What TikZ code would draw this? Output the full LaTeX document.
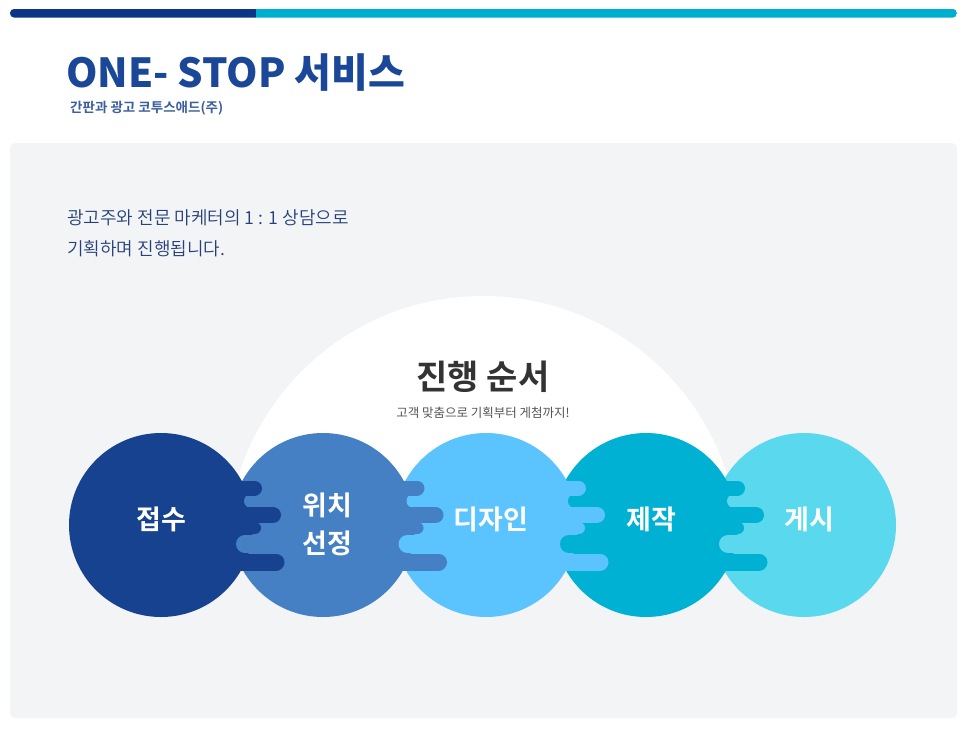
\documentclass[tikz,border=0pt]{standalone}
\usepackage{fontspec}
\newfontfamily\krreg{Noto Sans CJK KR}
\newfontfamily\krbold{Noto Sans CJK KR Bold}
\newfontfamily\krblack{Noto Sans CJK KR Black}
\newfontfamily\krlight{Noto Sans CJK KR DemiLight}
\definecolor{bardark}{HTML}{0C3587}
\definecolor{barlight}{HTML}{00AECF}
\definecolor{titleblue}{HTML}{1A4797}
\definecolor{subblue}{HTML}{3B5E9E}
\definecolor{panelgray}{HTML}{F3F4F6}
\definecolor{bodyblue}{HTML}{26417A}
\definecolor{cA}{HTML}{17428F}
\definecolor{cB}{HTML}{4680C4}
\definecolor{cC}{HTML}{5BC3FD}
\definecolor{cD}{HTML}{00B1D3}
\definecolor{cE}{HTML}{5AD8ED}
\definecolor{headgray}{HTML}{333333}
\definecolor{subgray}{HTML}{555555}
\tikzset{
  stepdisk/.style={circle, minimum size=184pt, inner sep=0pt, draw=none},
  steplabel/.style={text=white, font=\krbold\fontsize{27}{36}\selectfont, align=center, inner sep=0pt},
  finger/.style={line cap=round},
}
% #1,#2 = centre x of left and right disk, #3 = left colour, #4 = right colour
\newcommand{\joinfingers}[4]{%
  \pgfmathsetmacro{\jm}{(#1+#2)/2}%
  \draw[finger, #4, line width=14pt] ({\jm+9},501) -- ({\jm+50},501);
  \draw[finger, #4, line width=18pt] ({\jm+3},544) -- ({\jm+50},544);
  \draw[finger, #3, line width=15pt] ({\jm-20},488) -- ({\jm+12.5},488);
  \draw[finger, #3, line width=16pt] ({\jm-20},515) -- ({\jm+31},515);
  \draw[finger, #3, line width=12pt] ({\jm-20},528) -- ({\jm+13},528);
  \draw[finger, #3, line width=17pt] ({\jm-20},562) -- ({\jm+34},562);
}
\begin{document}
\begin{tikzpicture}[x=1pt,y=-1pt]
\useasboundingbox (0,0) rectangle (966,729);
\fill[white] (0,0) rectangle (966,729);
% top bar
\begin{scope}
  \clip[rounded corners=4pt] (10,9) rectangle (957,17.5);
  \fill[bardark] (10,9) rectangle (256,17.5);
  \fill[barlight] (256,9) rectangle (957,17.5);
\end{scope}
% title
\node[anchor=base west, inner sep=0pt, text=titleblue, font=\krblack\fontsize{40}{46}\selectfont] (title) at (66,87) {ONE- STOP 서비스};
\node[anchor=base west, inner sep=0pt, text=subblue, font=\krbold\fontsize{13.5}{16}\selectfont] (subtitle) at (70,112) {간판과 광고 코투스애드(주)};
% panel
\fill[panelgray, rounded corners=5pt] (10,143) rectangle (957,718);
% intro text
\node[anchor=base west, inner sep=0pt, text=bodyblue, font=\krlight\fontsize{18}{31}\selectfont, align=left] (intro) at (67,255) {광고주와 전문 마케터의 1 : 1 상담으로\\기획하며 진행됩니다.};
% white half disc
\begin{scope}
  \clip (0,0) rectangle (966,530);
  \fill[white] (483,552) circle (256);
\end{scope}
\node[anchor=base, inner sep=0pt, text=headgray, font=\krbold\fontsize{34}{40}\selectfont] (head) at (483,389) {진행 순서};
\node[anchor=base, inner sep=0pt, text=subgray, font=\krreg\fontsize{12.5}{15}\selectfont] (subhead) at (483,417) {고객 맞춤으로 기획부터 게첨까지!};
% disks (right to left so the left one lies on top)
\node[stepdisk, fill=cE] (s5) at (804,525) {};
\node[stepdisk, fill=cD] (s4) at (646,525) {};
\node[stepdisk, fill=cC] (s3) at (486,525) {};
\node[stepdisk, fill=cB] (s2) at (323,525) {};
\node[stepdisk, fill=cA] (s1) at (161,525) {};
% interlocking fingers
\joinfingers{161}{323}{cA}{cB}
\joinfingers{323}{486}{cB}{cC}
\joinfingers{486}{646}{cC}{cD}
\joinfingers{646}{804}{cD}{cE}
% labels
\node[steplabel] (l1) at ([yshift=6pt]s1.center) {접수};
\node[steplabel, font=\krbold\fontsize{27}{38}\selectfont] (l2) at ([xshift=4pt,yshift=1pt]s2.center) {위치\\선정};
\node[steplabel] (l3) at ([xshift=5pt,yshift=6pt]s3.center) {디자인};
\node[steplabel] (l4) at ([xshift=5pt,yshift=6pt]s4.center) {제작};
\node[steplabel] (l5) at ([xshift=5pt,yshift=6pt]s5.center) {게시};
\end{tikzpicture}
\end{document}
